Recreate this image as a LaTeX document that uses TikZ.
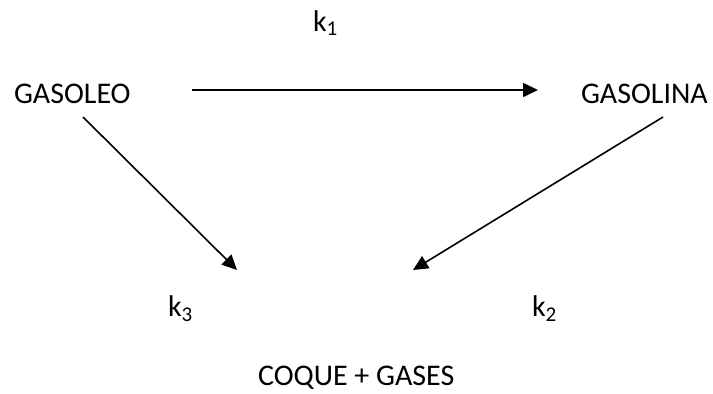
\documentclass[tikz,border=0pt]{standalone}
\usepackage{fontspec}
\setmainfont{Carlito}
\usetikzlibrary{arrows.meta}
\begin{document}
\begin{tikzpicture}[x=1pt,y=-1pt,
  lbl/.style={anchor=base west,inner sep=0pt,outer sep=0pt,font=\fontsize{30}{30}\selectfont},
  arr/.style={line width=1.6pt,-{Triangle[length=15pt,width=14pt]}}]
\useasboundingbox (0,0) rectangle (713,394);
\node[lbl] (gasoleo) at (14,103) {GASOLEO};
\node[lbl] (gasolina) at (581,103) {GASOLINA};
\node[lbl] (coque) at (258,385) {COQUE + GASES};
\node[lbl] (k1) at (313,31) {k\textsubscript{1}};
\node[lbl] (k3) at (168,316) {k\textsubscript{3}};
\node[lbl] (k2) at (532,316) {k\textsubscript{2}};
\draw[arr] ([shift={(178,-13)}]gasoleo.base west) -- ([shift={(-43,-13)}]gasolina.base west);
\draw[arr] ([shift={(69,14)}]gasoleo.base west) -- ([shift={(-21,-115)}]coque.base west);
\draw[arr] ([shift={(82,14)}]gasolina.base west) -- ([shift={(155,-115)}]coque.base west);
\end{tikzpicture}
\end{document}
